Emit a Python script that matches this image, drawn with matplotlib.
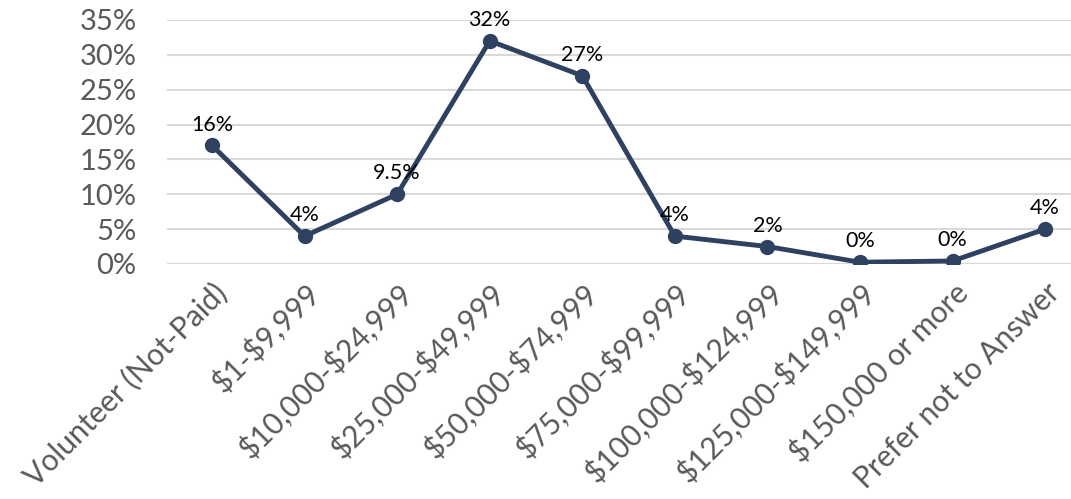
import matplotlib.pyplot as plt
from matplotlib.ticker import PercentFormatter

plt.rcParams['font.family'] = ['Lato', 'DejaVu Sans']

# Chart data
categories = [
    "Volunteer (Not-Paid)", "\\$1-\\$9,999", "\\$10,000-\\$24,999", "\\$25,000-\\$49,999",
    "\\$50,000-\\$74,999", "\\$75,000-\\$99,999", "\\$100,000-\\$124,999",
    "\\$125,000-\\$149,999", "\\$150,000 or more", "Prefer not to Answer",
]
values = [0.170, 0.040, 0.100, 0.320, 0.270, 0.040, 0.025, 0.0025, 0.0043, 0.050]
value_labels = ["16%", "4%", "9.5%", "32%", "27%", "4%", "2%", "0%", "0%", "4%"]

line_color = "#2E4160"

fig = plt.figure(figsize=(10.71, 4.99), dpi=100)
ax = fig.add_axes([0.156, 0.471, 0.844, 0.489])

x = list(range(len(categories)))
ax.plot(x, values, color=line_color, linewidth=3.5, marker="o",
        markersize=10, zorder=3)

for xi, v, lab in zip(x, values, value_labels):
    ax.annotate(lab, (xi, v), xytext=(0, 15), textcoords="offset points",
                ha="center", va="center", fontsize=15.5, color="black")

ax.set_ylim(0, 0.35)
ax.set_yticks([i * 0.05 for i in range(8)])
ax.yaxis.set_major_formatter(PercentFormatter(1.0, decimals=0))
ax.set_xlim(-0.486, 9.28)
ax.set_xticks(x)
ax.set_xticklabels(categories, rotation=45, ha="right", rotation_mode="anchor")

ax.grid(axis="y", color="#D9D9D9", linewidth=1.5)
ax.set_axisbelow(True)
for s in ax.spines.values():
    s.set_visible(False)
ax.tick_params(length=0, colors="#595959")
ax.tick_params(axis="y", labelsize=21, pad=22)
ax.tick_params(axis="x", labelsize=21.5, pad=10)

fig.savefig("out.png", dpi=100)
